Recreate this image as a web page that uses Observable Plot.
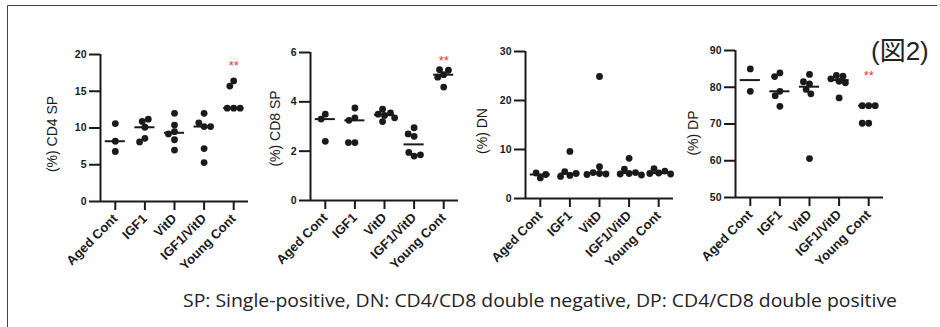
<!DOCTYPE html>
<html><head><meta charset="utf-8">
<script src="https://cdn.jsdelivr.net/npm/d3@7"></script>
<script src="https://cdn.jsdelivr.net/npm/@observablehq/plot@0.6"></script>
<style>
html,body{margin:0;padding:0;background:#fff;}
#wrap{position:relative;width:940px;height:327px;overflow:hidden;background:#fff;}
#wrap svg{position:absolute;}
</style></head><body>
<div id="wrap"></div>
<script>
// ---- data ----
const categories = ["Aged Cont", "IGF1", "VitD", "IGF1/VitD", "Young Cont"];
const cd4Values = [[8.2, 10.6, 6.8], [10.1, 10.9, 11.2, 8.6, 8.1], [9.5, 12.0, 10.4, 9.2, 8.4, 7.0], [10.2, 12.0, 10.7, 10.2, 7.2, 5.3], [12.7, 12.7, 12.7, 16.4, 15.7]];
const cd8Values = [[2.4, 3.5, 3.3], [3.75, 3.35, 3.25, 2.35, 2.35], [3.45, 3.7, 3.55, 3.5, 3.35, 3.2], [2.6, 2.95, 2.7, 1.8, 1.95, 1.85], [5.1, 5.3, 5.28, 5.0, 4.6]];
const dnValues = [[4.2, 5.2, 4.9], [4.7, 9.6, 5.5, 5.1, 4.5], [5.1, 24.9, 6.5, 5.3, 5.0, 4.9], [5.1, 8.2, 6.0, 5.3, 5.0, 4.8], [5.2, 6.1, 5.6, 5.1, 5.0]];
const dpValues = [[85.0, 78.9], [78.9, 83.9, 82.9, 77.7, 74.8], [80.9, 83.5, 81.5, 79.4, 78.2, 60.6], [81.6, 83.2, 83.0, 82.3, 81.2, 77.1], [75.0, 75.0, 75.0, 70.2, 70.2]];
const yLabels = ["(%) CD4 SP", "(%) CD8 SP", "(%) DN", "(%) DP"];
const yDomains = [[0, 20], [0, 6], [0, 30], [50, 90]];
const yTicks = [[0, 5, 10, 15, 20], [0, 2, 4, 6], [0, 10, 20, 30], [50, 60, 70, 80, 90]];
const starValues = [18.8, 5.78, null, 83.8];
const starText = "**";
const captionText = "SP: Single-positive, DN: CD4/CD8 double negative, DP: CD4/CD8 double positive";
const figureLabel = "(図2)";

const panelValues = [cd4Values, cd8Values, dnValues, dpValues];

// ---- layout ----
const layout = [
  {x0: 100, top: 54, bottom: 201, labelDx: -48, labelDy: 6},
  {x0: 310, top: 52, bottom: 200, labelDx: -35, labelDy: 2},
  {x0: 525, top: 51, bottom: 198, labelDx: -43, labelDy: 6},
  {x0: 735, top: 50, bottom: 197, labelDx: -42, labelDy: 9}
];
const axisW = 148, svgH = 290, mL = 65, mR = 30;
const R = 3.4;
const ink = "#1a1a1a";
const font = "'Liberation Sans', Arial, sans-serif";

function dodge(vals, pxPerUnit, r) {
  const d = 2 * r * 0.95;
  const placed = [];
  for (const v of vals) {
    const y = v * pxPerUnit;
    const cands = [0];
    for (const p of placed) {
      const dy = Math.abs(p.y - y);
      if (dy < d) { const h = Math.sqrt(d * d - dy * dy); cands.push(p.x - h, p.x + h); }
    }
    cands.sort((a, b) => Math.abs(a) - Math.abs(b) || a - b);
    let x = 0;
    for (const c of cands) {
      if (placed.every(p => (p.x - c) ** 2 + (p.y - y) ** 2 >= d * d - 1e-6)) { x = c; break; }
    }
    placed.push({x, y});
  }
  return placed.map(p => p.x);
}

const wrap = document.getElementById("wrap");

panelValues.forEach((groups, k) => {
  const L = layout[k];
  const [y0, y1] = yDomains[k];
  const pxPerUnit = (L.bottom - L.top) / (y1 - y0);
  const step = axisW / categories.length;
  const rows = [];
  groups.forEach((vals, i) => {
    const offs = dodge(vals, pxPerUnit, R);
    vals.forEach((v, j) => rows.push({cat: categories[i], value: v, xPos: i + offs[j] / step}));
  });
  const medians = groups.map((vals, i) => ({i, m: d3.median(vals)}));
  const marks = [
    Plot.axisY({ticks: yTicks[k], tickFormat: d => String(d), tickSize: 11, tickPadding: 3, fontSize: 10.5, fontWeight: "bold", fill: ink, stroke: ink, strokeWidth: 2, label: null}),
    Plot.axisX({ticks: [0, 1, 2, 3, 4], tickFormat: i => categories[i], tickRotate: -45, tickSize: 9, tickPadding: 6, fontSize: 13, fontWeight: "bold", fill: ink, stroke: ink, strokeWidth: 2, label: null}),
    Plot.ruleX([-0.5], {stroke: ink, strokeWidth: 2}),
    Plot.ruleY([y0], {stroke: ink, strokeWidth: 2}),
    Plot.ruleY(medians, {y: "m", x1: d => d.i - 0.34, x2: d => d.i + 0.34, stroke: ink, strokeWidth: 2}),
    Plot.dot(rows, {x: "xPos", y: "value", r: R, fill: ink, stroke: null}),
    Plot.text([yLabels[k]], {frameAnchor: "left", textAnchor: "middle", text: d => d, rotate: -90, dx: L.labelDx, dy: L.labelDy, fontSize: 14, fill: ink})
  ];
  if (starValues[k] != null) {
    marks.push(Plot.text([starValues[k]], {x: 4, y: d => d, text: () => starText, fill: "#e53935", fontSize: 13, dy: 3}));
  }
  const svg = Plot.plot({
    width: mL + axisW + mR,
    height: svgH,
    marginLeft: mL,
    marginRight: mR,
    marginTop: L.top,
    marginBottom: svgH - L.bottom,
    x: {domain: [-0.5, 4.5], axis: null},
    y: {domain: [y0, y1], axis: null},
    style: {fontFamily: font, background: "transparent", overflow: "visible", position: "absolute", left: (L.x0 - mL) + "px", top: "0px"},
    marks
  });
  wrap.appendChild(svg);
});

// decorations: frame, caption, figure label
const deco = d3.select(wrap).append("svg")
  .attr("width", 940).attr("height", 327)
  .style("left", "0px").style("top", "0px").style("pointer-events", "none");
deco.append("path").attr("d", "M7.5,330V5.5H937").attr("fill", "none").attr("stroke", "#444").attr("stroke-width", 1);
deco.append("text").attr("x", 183).attr("y", 307)
  .attr("textLength", 714).attr("lengthAdjust", "spacingAndGlyphs")
  .attr("font-family", "'Open Sans', sans-serif").attr("font-size", 18).attr("fill", "#222")
  .text(captionText);
deco.append("text").attr("x", 871).attr("y", 60)
  .attr("font-family", "'Liberation Sans', 'Noto Sans CJK JP', sans-serif").attr("font-size", 26).attr("fill", "#222")
  .text(figureLabel);
</script>
</body></html>
